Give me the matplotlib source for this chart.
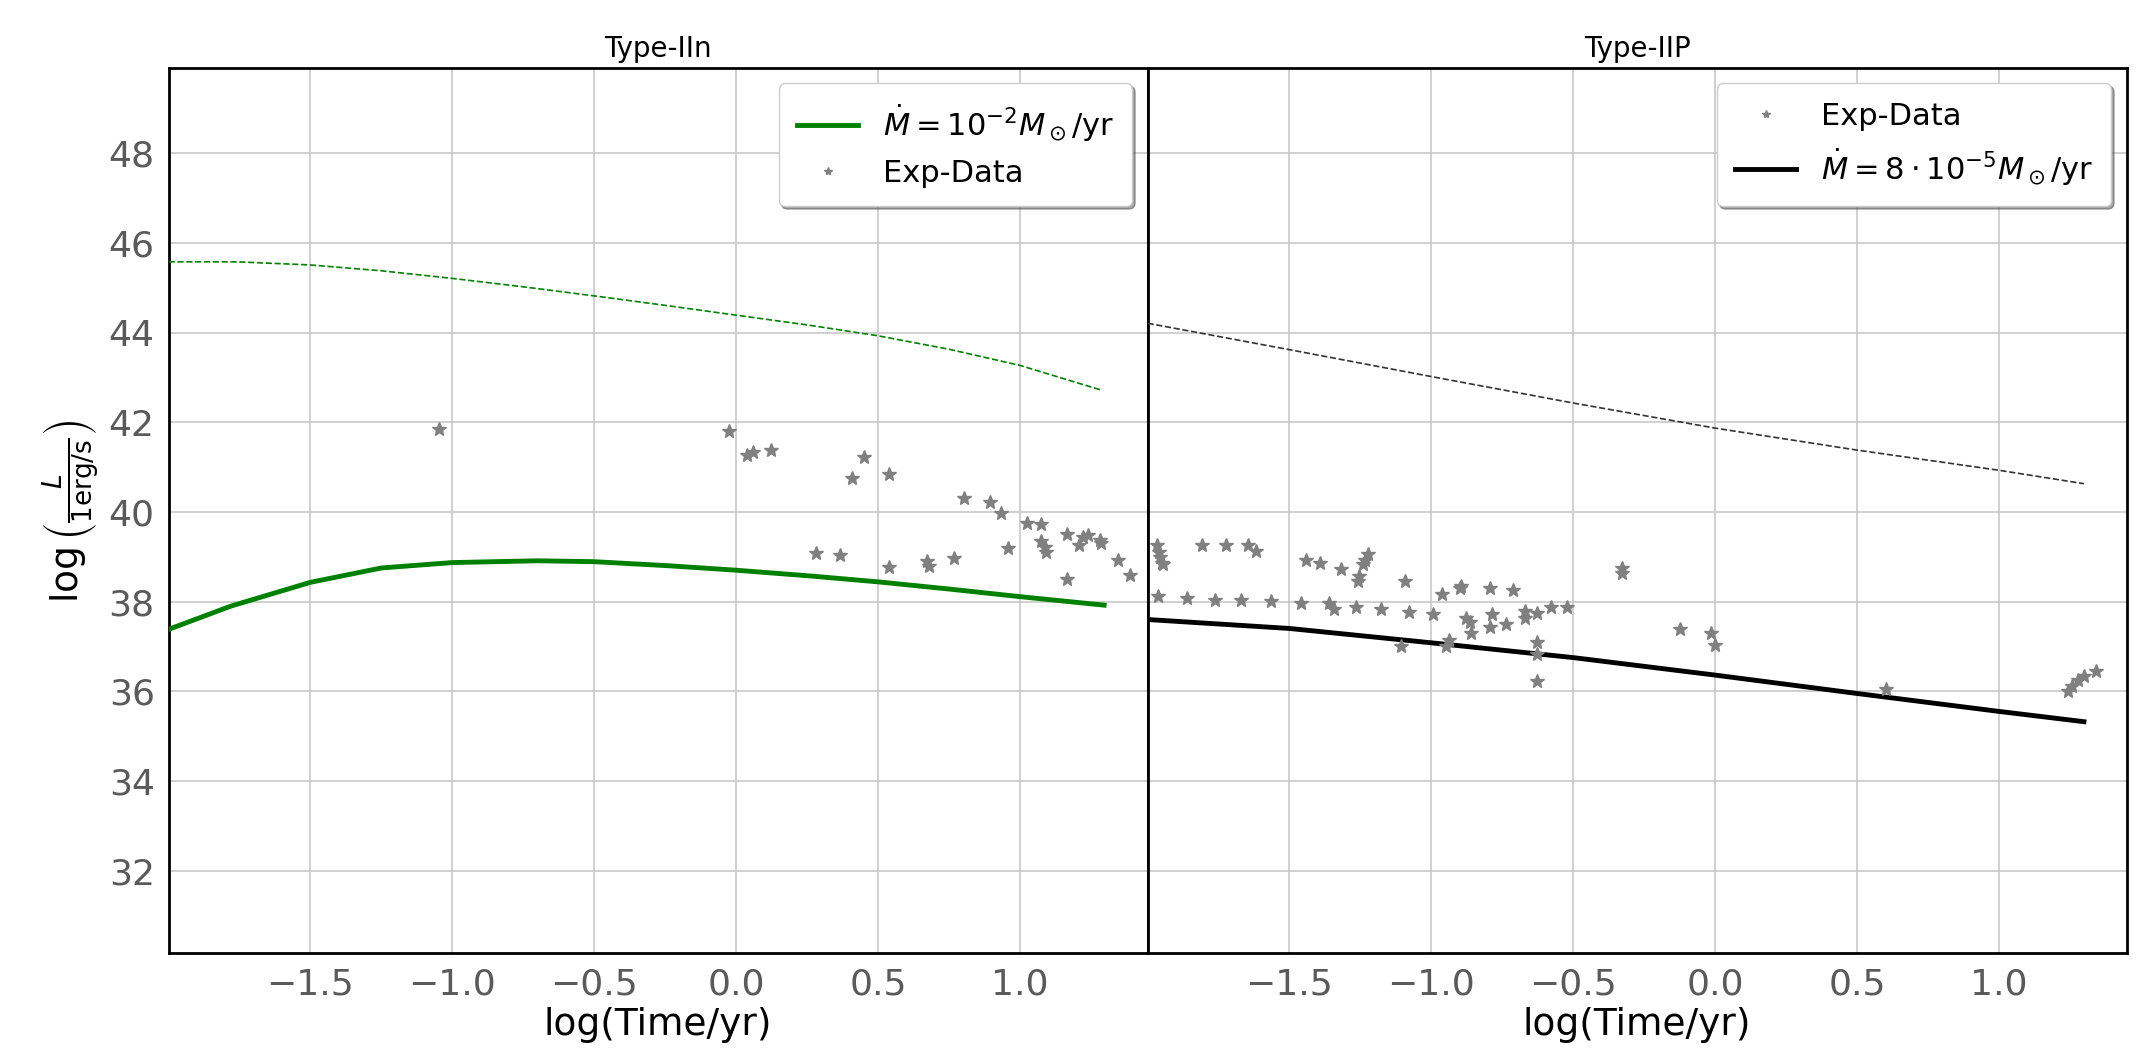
import matplotlib
matplotlib.use("Agg")
import matplotlib.pyplot as plt

# ---- data ----
iin_model_x = [-2.0, -1.78, -1.5, -1.25, -1.0, -0.7, -0.5, -0.24, 0.0, 0.264, 0.5, 0.75, 1.0, 1.297]
iin_model_y = [37.38, 37.90, 38.43, 38.75, 38.87, 38.91, 38.89, 38.80, 38.70, 38.57, 38.44, 38.28, 38.11, 37.92]
iin_upper_x = [-2.0, -1.76, -1.5, -1.25, -1.0, -0.747, -0.5, -0.24, 0.0, 0.264, 0.5, 0.75, 1.0, 1.286]
iin_upper_y = [45.58, 45.58, 45.51, 45.38, 45.21, 45.02, 44.82, 44.60, 44.39, 44.16, 43.93, 43.63, 43.27, 42.72]
iin_data_x = [-1.046, -0.026, 0.039, 0.058, 0.124, 0.409, 0.450, 0.540, 0.281, 0.366,
              0.540, 0.673, 0.678, 0.768, 0.802, 0.894, 0.932, 0.959, 1.025, 1.076,
              1.076, 1.088, 1.091, 1.167, 1.167, 1.207, 1.222, 1.240, 1.284, 1.287,
              1.345, 1.388]
iin_data_y = [41.84, 41.81, 41.27, 41.33, 41.38, 40.76, 41.22, 40.84, 39.09, 39.05,
              38.77, 38.90, 38.79, 38.98, 40.31, 40.22, 39.97, 39.19, 39.76, 39.72,
              39.35, 39.22, 39.10, 39.51, 38.51, 39.27, 39.43, 39.48, 39.38, 39.31,
              38.93, 38.60]

iip_model_x = [-2.0, -1.5, -1.0, -0.5, 0.0, 0.5, 1.0, 1.3]
iip_model_y = [37.60, 37.40, 37.08, 36.75, 36.36, 35.95, 35.55, 35.32]
iip_upper_x = [-2.0, -1.5, -1.0, -0.5, 0.0, 0.5, 1.0, 1.3]
iip_upper_y = [44.21, 43.62, 43.02, 42.43, 41.87, 41.38, 40.93, 40.63]
iip_data_x = [-1.967, -1.961, -1.955, -1.949, -1.946, -1.808, -1.722, -1.647, -1.618, -1.441,
              -1.391, -1.318, -1.259, -1.255, -1.240, -1.235, -1.224,
              -1.965, -1.861, -1.761, -1.671, -1.565, -1.461, -1.361, -1.344, -1.264,
              -1.179, -1.094, -1.080, -1.106, -0.995, -0.962, -0.949, -0.938, -0.899,
              -0.894, -0.879, -0.864, -0.859, -0.793, -0.793, -0.785, -0.738, -0.712,
              -0.669, -0.669, -0.629, -0.629, -0.629, -0.629, -0.577, -0.523, -0.328,
              -0.328, -0.124, -0.014, 0.0, 0.601, 1.245, 1.259, 1.280, 1.301, 1.344]
iip_data_y = [39.27, 39.10, 38.99, 38.87, 38.84, 39.27, 39.27, 39.27, 39.12, 38.93,
              38.85, 38.72, 38.46, 38.57, 38.84, 38.93, 39.06,
              38.13, 38.09, 38.04, 38.04, 38.01, 37.97, 37.97, 37.83, 37.88,
              37.84, 38.46, 37.76, 37.01, 37.72, 38.18, 37.01, 37.14, 38.31,
              38.35, 37.63, 37.55, 37.31, 38.30, 37.43, 37.72, 37.51, 38.25,
              37.78, 37.64, 37.75, 37.10, 36.84, 36.22, 37.88, 37.88, 38.76,
              38.63, 37.38, 37.30, 37.04, 36.04, 36.00, 36.11, 36.24, 36.34, 36.46]

titles = ["Type-IIn", "Type-IIP"]
xticks = [-1.5, -1.0, -0.5, 0.0, 0.5, 1.0]
yticks = [32, 34, 36, 38, 40, 42, 44, 46, 48]

# ---- figure ----
plt.rcParams['font.family'] = ['DejaVu Sans']
plt.rcParams['mathtext.fontset'] = 'dejavusans'
fig = plt.figure(figsize=(21.48, 10.49), dpi=100)
axes = fig.subplots(1, 2, sharey=True)
fig.subplots_adjust(left=0.0785, right=0.990, bottom=0.0911, top=0.935, wspace=0)

ax1, ax2 = axes
ax1.plot(iin_model_x, iin_model_y, color='green', lw=3.5,
         label=r'$\dot{M}=10^{-2}M_\odot/$yr', zorder=3)
ax1.plot(iin_upper_x, iin_upper_y, color='green', lw=1.2, ls='--', zorder=3)
ax1.plot(iin_data_x, iin_data_y, ls='none', marker='*', ms=10, color='gray',
         label='Exp-Data', zorder=4)

ax2.plot(iip_data_x, iip_data_y, ls='none', marker='*', ms=10, color='gray',
         label='Exp-Data', zorder=4)
ax2.plot(iip_model_x, iip_model_y, color='black', lw=3.5,
         label=r'$\dot{M}=8\cdot10^{-5}M_\odot/$yr', zorder=3)
ax2.plot(iip_upper_x, iip_upper_y, color='#333333', lw=1.2, ls='--', zorder=3)

for ax, t in zip(axes, titles):
    ax.set_xlim(-2.0, 1.45)
    ax.set_ylim(30.15, 49.9)
    ax.set_xticks(xticks)
    ax.set_yticks(yticks)
    ax.grid(True, color='#c8c8c8', lw=1.2)
    ax.set_axisbelow(True)
    for sp in ax.spines.values():
        sp.set_color('black')
        sp.set_linewidth(2.0)
    ax.tick_params(length=0, labelsize=26, colors='#5a5a5a', pad=10)
    ax.set_title(t, fontsize=20, color='black', pad=8)
    ax.set_xlabel('log(Time/yr)', fontsize=27, color='black')
    ax.legend(loc='upper right', fontsize=22, frameon=True, fancybox=True,
              shadow=True, markerscale=0.6, edgecolor='#cccccc',
              framealpha=1.0, borderpad=0.6)

ax2.tick_params(labelleft=False)
ax1.set_ylabel(r'$\log\left(\frac{L}{1\mathrm{erg/s}}\right)$', fontsize=27, color='black')

fig.savefig('out.png', dpi=100, facecolor='white')
